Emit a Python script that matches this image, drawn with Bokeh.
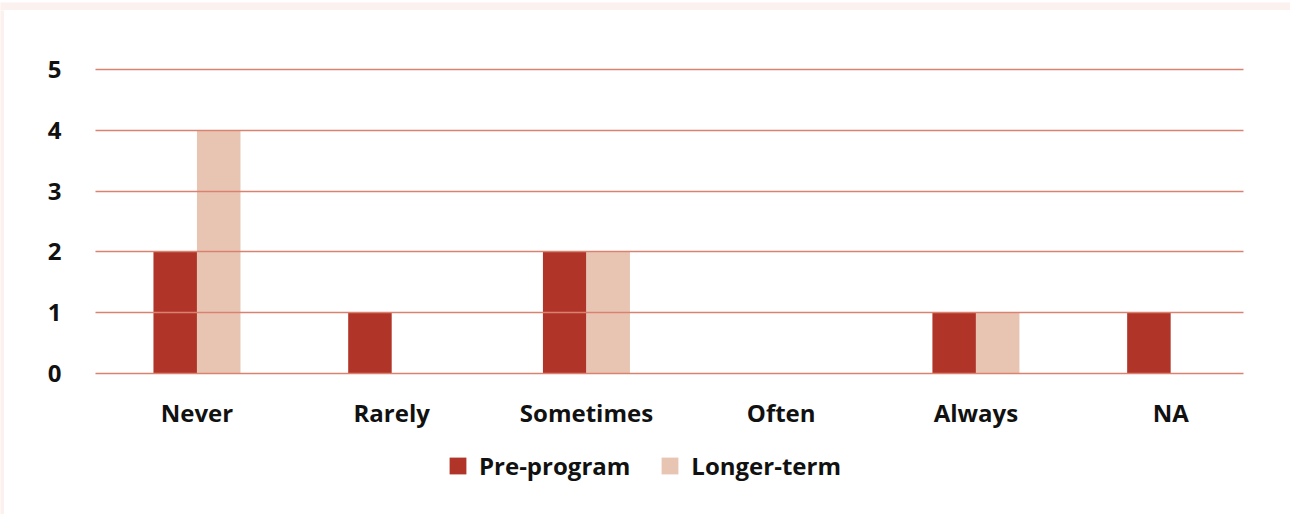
from bokeh.plotting import figure
from bokeh.models import ColumnDataSource, FixedTicker, Legend, LegendItem, Range1d
from bokeh.layouts import column, row
from bokeh.transform import dodge
from bokeh.embed import file_html
from bokeh.resources import INLINE

categories = ["Never", "Rarely", "Sometimes", "Often", "Always", "NA"]
pre_program = [2, 1, 2, 0, 1, 1]
longer_term = [4, 0, 2, 0, 1, 0]
y_ticks = [0, 1, 2, 3, 4, 5]
series_names = ["Pre-program", "Longer-term"]

PINK = "#FBF1EE"
FONT = "Open Sans"
FS = "24px"
C_PRE = "#B03428"
C_LONG = "#E8C4B3"

src = ColumnDataSource(dict(x=list(range(len(categories))), pre=pre_program, longer=longer_term))

p = figure(width=1286, height=440, output_backend="svg", toolbar_location=None,
           x_range=Range1d(-0.521, 5.374), y_range=Range1d(-0.1, 5.15),
           min_border_left=91, min_border_right=47, min_border_top=50, min_border_bottom=71)
p.outline_line_color = None
p.background_fill_color = "white"
p.border_fill_color = "white"

bw = 0.2234
p.vbar(x=dodge("x", -bw / 2), top="pre", width=bw, source=src, color=C_PRE, line_color=None)
p.vbar(x=dodge("x", bw / 2), top="longer", width=bw, source=src, color=C_LONG, line_color=None)

p.xgrid.visible = False
p.ygrid.ticker = FixedTicker(ticks=y_ticks)
p.ygrid.grid_line_color = "#D9826F"
p.ygrid.grid_line_width = 1.3
p.ygrid.level = "overlay"

p.yaxis.ticker = FixedTicker(ticks=y_ticks)
p.yaxis.axis_line_color = None
p.yaxis.major_tick_line_color = None
p.yaxis.minor_tick_line_color = None
p.yaxis.major_label_text_font = FONT
p.yaxis.major_label_text_font_style = "bold"
p.yaxis.major_label_text_font_size = FS
p.yaxis.major_label_text_color = "#111111"
p.yaxis.major_label_standoff = 28

p.xaxis.ticker = FixedTicker(ticks=list(range(len(categories))))
p.xaxis.major_label_overrides = {i: c for i, c in enumerate(categories)}
p.xaxis.axis_line_color = None
p.xaxis.major_tick_line_color = None
p.xaxis.minor_tick_line_color = None
p.xaxis.major_label_text_font = FONT
p.xaxis.major_label_text_font_style = "bold"
p.xaxis.major_label_text_font_size = FS
p.xaxis.major_label_text_color = "#111111"
p.xaxis.major_label_standoff = 10

# legend in its own strip below the chart (its frame is aligned with the chart's frame)
lg = figure(width=1286, height=32, output_backend="svg", toolbar_location=None,
            x_axis_location=None, y_axis_location=None, x_range=Range1d(0, 1), y_range=Range1d(0, 1),
            min_border=0, min_border_left=0, min_border_right=0, min_border_top=0, min_border_bottom=0)
lg.outline_line_color = None
lg.grid.visible = False
lg.border_fill_color = "white"
lr1 = lg.vbar(x=[0.5], top=[0], width=0.0, color=C_PRE, line_color=None)
lr2 = lg.vbar(x=[0.5], top=[0], width=0.0, color=C_LONG, line_color=None)
legend = Legend(items=[LegendItem(label=series_names[0], renderers=[lr1]),
                       LegendItem(label=series_names[1], renderers=[lr2])],
                orientation="horizontal", location=(352, 0),
                glyph_width=21, glyph_height=21, label_standoff=11, spacing=29,
                label_text_font=FONT, label_text_font_style="bold", label_text_font_size=FS,
                label_text_color="#111111", border_line_color=None, background_fill_alpha=0,
                margin=0, padding=0)
lg.add_layout(legend, "center")


def strip(w, h):
    s = figure(width=w, height=h, output_backend="svg", toolbar_location=None,
               x_axis_location=None, y_axis_location=None,
               min_border=0, min_border_left=0, min_border_right=0, min_border_top=0, min_border_bottom=0)
    s.outline_line_color = None
    s.background_fill_color = PINK
    s.border_fill_color = PINK
    s.grid.visible = False
    s.scatter([0], [0], alpha=0)
    return s


layout = column(strip(1290, 10), row(strip(4, 504), column(p, lg, spacing=0), spacing=0), spacing=0)

open("out.html", "w").write(file_html(layout, INLINE))
